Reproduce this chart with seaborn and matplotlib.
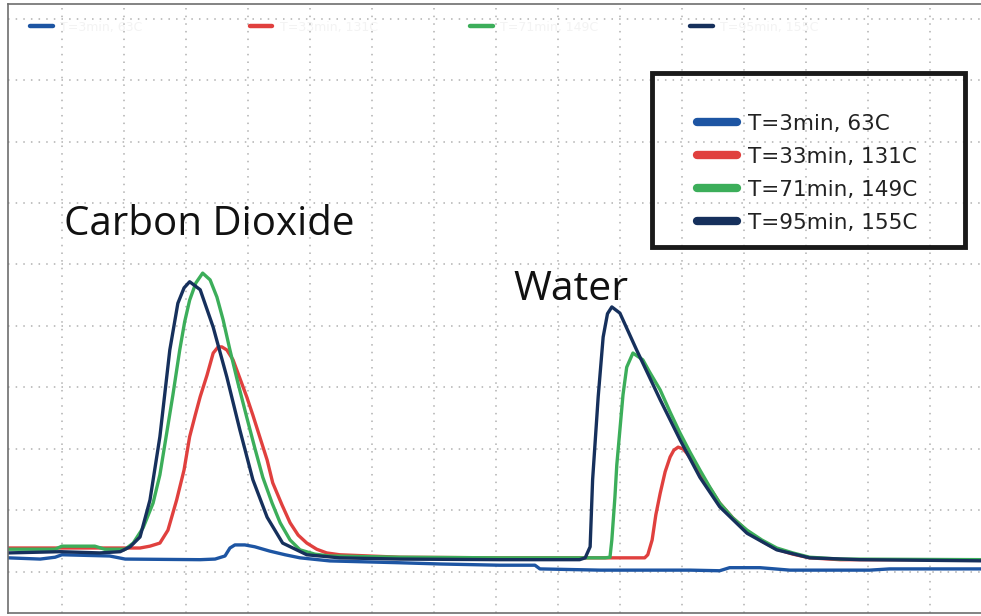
import numpy as np
import pandas as pd
import matplotlib
matplotlib.use('Agg')
import matplotlib.pyplot as plt
from matplotlib.ticker import MultipleLocator
from matplotlib.patches import Rectangle
from matplotlib.lines import Line2D
import seaborn as sns

# series labels and colours
labels = ['T=3min, 63C', 'T=33min, 131C', 'T=71min, 149C', 'T=95min, 155C']
colors = ['#1d55a3', '#e0403e', '#3cae5a', '#16305c']

# T=3min, 63C (flat trace, small bump)
x_t3 = [0.13, 0.65, 0.89, 1.00, 1.77, 2.02, 3.23, 3.47, 3.63, 3.71, 3.79, 3.95, 4.11, 4.35,
        4.60, 4.84, 5.32, 6.45, 7.10, 8.06, 8.63, 8.71, 9.68, 11.13, 11.61, 11.77, 12.26,
        12.74, 14.03, 14.35, 15.97]
y_t3 = [0.23, 0.21, 0.24, 0.28, 0.26, 0.21, 0.20, 0.21, 0.26, 0.39, 0.44, 0.44, 0.41, 0.34,
        0.28, 0.23, 0.18, 0.15, 0.13, 0.11, 0.11, 0.05, 0.03, 0.03, 0.02, 0.07, 0.07,
        0.03, 0.03, 0.05, 0.05]

# T=33min, 131C
x_t33 = [0.13, 2.10, 2.26, 2.42, 2.58, 2.71, 2.85, 2.97, 3.06, 3.15, 3.23, 3.34, 3.44, 3.52,
         3.58, 3.66, 3.76, 3.87, 3.98, 4.08, 4.19, 4.31, 4.40, 4.55, 4.68, 4.81, 4.95, 5.11,
         5.27, 5.48, 6.45, 8.06, 9.68, 10.40, 10.45, 10.52, 10.58, 10.65, 10.73, 10.81, 10.87,
         10.94, 11.02, 11.08, 11.18, 11.29, 11.45, 11.61, 11.82, 12.05, 12.29, 12.53, 12.79,
         13.06, 13.55, 15.97]
y_t33 = [0.39, 0.39, 0.39, 0.42, 0.47, 0.68, 1.17, 1.66, 2.20, 2.55, 2.85, 3.20, 3.56, 3.66,
         3.66, 3.61, 3.45, 3.15, 2.85, 2.55, 2.20, 1.82, 1.45, 1.09, 0.80, 0.60, 0.47, 0.37,
         0.31, 0.28, 0.24, 0.23, 0.23, 0.23, 0.28, 0.52, 0.93, 1.28, 1.63, 1.87, 1.98,
         2.03, 2.00, 1.93, 1.79, 1.61, 1.37, 1.12, 0.88, 0.67, 0.50, 0.37, 0.29,
         0.23, 0.20, 0.20]

# T=71min, 149C
x_t71 = [0.13, 0.89, 1.00, 1.53, 1.69, 2.02, 2.15, 2.31, 2.47, 2.58, 2.69, 2.79, 2.90, 2.98,
         3.06, 3.16, 3.27, 3.39, 3.50, 3.60, 3.71, 3.84, 3.98, 4.11, 4.24, 4.39, 4.52, 4.68,
         4.84, 5.08, 5.32, 6.45, 8.06, 9.76, 9.84, 9.87, 9.92, 9.95, 10.00, 10.05, 10.11,
         10.21, 10.37, 10.48, 10.65, 10.81, 10.97, 11.13, 11.29, 11.45, 11.61, 11.82, 12.05,
         12.29, 12.53, 12.79, 13.06, 13.55, 15.97]
y_t71 = [0.37, 0.37, 0.42, 0.42, 0.37, 0.37, 0.47, 0.72, 1.12, 1.58, 2.26, 2.88, 3.61, 4.07,
         4.42, 4.70, 4.86, 4.75, 4.47, 4.10, 3.61, 3.07, 2.52, 2.02, 1.54, 1.12, 0.80, 0.52,
         0.36, 0.29, 0.26, 0.24, 0.23, 0.23, 0.24, 0.52, 1.22, 1.74, 2.31, 2.88, 3.33,
         3.56, 3.45, 3.25, 2.96, 2.60, 2.26, 1.95, 1.66, 1.38, 1.12, 0.88, 0.68,
         0.52, 0.39, 0.31, 0.24, 0.21, 0.20]

# T=95min, 155C
x_t95 = [0.13, 0.97, 1.61, 1.94, 2.10, 2.26, 2.42, 2.58, 2.74, 2.87, 2.97, 3.06, 3.23, 3.44,
         3.66, 3.87, 4.08, 4.31, 4.56, 4.95, 5.48, 6.45, 8.06, 9.35, 9.44, 9.52, 9.56, 9.65,
         9.73, 9.80, 9.87, 10.00, 10.27, 10.65, 10.97, 11.29, 11.61, 12.05, 12.53, 13.06,
         13.87, 15.97]
y_t95 = [0.31, 0.33, 0.31, 0.33, 0.41, 0.57, 1.17, 2.20, 3.61, 4.37, 4.62, 4.72, 4.59, 3.98,
         3.17, 2.31, 1.50, 0.89, 0.47, 0.28, 0.23, 0.21, 0.20, 0.20, 0.23, 0.41, 1.50, 2.85,
         3.82, 4.20, 4.31, 4.21, 3.61, 2.80, 2.15, 1.54, 1.06, 0.63, 0.36, 0.23,
         0.20, 0.18]

series_x = [x_t3, x_t33, x_t71, x_t95]
series_y = [y_t3, y_t33, y_t71, y_t95]

frames = []
for lab, xs, ys in zip(labels, series_x, series_y):
    frames.append(pd.DataFrame({'time': xs, 'signal': ys, 'run': lab}))
df = pd.concat(frames, ignore_index=True)

sns.set_style('white')
W, H = 981, 616
fig = plt.figure(figsize=(W / 100, H / 100), dpi=100)
ax = fig.add_axes([8 / W, 3 / H, (990 - 8) / W, (613 - 4) / H])

sns.lineplot(data=df, x='time', y='signal', hue='run', hue_order=labels,
             palette=colors, estimator=None, sort=False, linewidth=2.4,
             legend=False, ax=ax)

ax.set_xlim(0.13, 15.97)
ax.set_ylim(-0.667, 9.236)
ax.xaxis.set_major_locator(MultipleLocator(1))
ax.yaxis.set_major_locator(MultipleLocator(1))
ax.yaxis.set_minor_locator(MultipleLocator(0.2))
ax.grid(True, which='major', color='#b0b0b0', linestyle=(0, (1, 4)), linewidth=1.1)
ax.set_axisbelow(True)
ax.tick_params(axis='both', which='both', labelleft=False, labelbottom=False)
ax.tick_params(axis='x', which='both', length=0)
ax.tick_params(axis='y', which='both', direction='in', length=3, color='#777777', width=0.8)
ax.set_xlabel('')
ax.set_ylabel('')
for s in ['left', 'top', 'bottom']:
    ax.spines[s].set_color('#6e6e6e')
    ax.spines[s].set_linewidth(1.2)
ax.spines['right'].set_visible(False)

# peak names
ax.text(1.04, 5.48, 'Carbon Dioxide', fontsize=29, family=['Open Sans', 'DejaVu Sans'],
        color='#111111', ha='left', va='baseline')
ax.text(8.29, 4.42, 'Water', fontsize=29.5, family=['Open Sans', 'DejaVu Sans'],
        color='#111111', ha='left', va='baseline')

# faded legend row along the top
for i, (lab, c) in enumerate(zip(labels, colors)):
    h = [Line2D([], [], color=c, lw=3.2)]
    lg = ax.legend(h, [lab], loc='center left', frameon=False, fontsize=9,
                   handlelength=1.8, handletextpad=0.6, borderpad=0, borderaxespad=0,
                   labelcolor='#f3f3f3',
                   bbox_to_anchor=((30 + i * 220) / W, 1 - 27 / H),
                   bbox_transform=fig.transFigure)
    ax.add_artist(lg)

# main legend with a heavy box
handles = [Line2D([], [], color=c, lw=6) for c in colors]
leg = ax.legend(handles, labels, loc='upper left', frameon=False, fontsize=15.5,
                handlelength=1.85, handletextpad=0.5, labelspacing=0.6,
                borderpad=0, borderaxespad=0,
                bbox_to_anchor=(697 / W, 1 - 114 / H), bbox_transform=fig.transFigure)
for t in leg.get_texts():
    t.set_color('#222222')
fig.patches.append(Rectangle((652 / W, 1 - 247 / H), (965 - 652) / W, (247 - 73) / H,
                             transform=fig.transFigure, fill=False, lw=3.5,
                             ec='#1a1a1a', zorder=5))

fig.savefig('out.png', dpi=100)
